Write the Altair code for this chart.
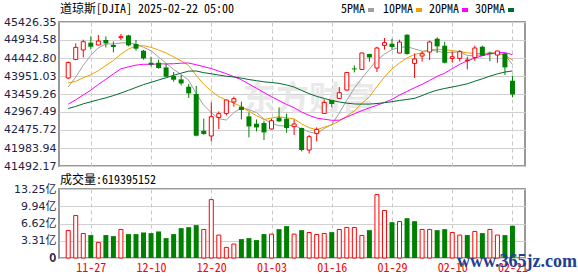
import altair as alt
import pandas as pd

# ---- daily bars, DJIA ----
dates = ["11-22", "11-25", "11-26", "11-27", "11-29", "12-02", "12-03", "12-04", "12-05", "12-06",
         "12-09", "12-10", "12-11", "12-12", "12-13", "12-16", "12-17", "12-18", "12-19", "12-20",
         "12-23", "12-24", "12-26", "12-27", "12-30", "12-31", "01-02", "01-03", "01-06", "01-07",
         "01-08", "01-10", "01-13", "01-14", "01-15", "01-16", "01-17", "01-21", "01-22", "01-23",
         "01-24", "01-27", "01-28", "01-29", "01-30", "01-31", "02-03", "02-04", "02-05", "02-06",
         "02-07", "02-10", "02-11", "02-12", "02-13", "02-14", "02-18", "02-19", "02-20", "02-21"]

opens = [43896, 44404, 44661, 44861, 44798, 44935, 44798, 44997, 45060, 44825,
         44642, 44314, 44314, 44186, 43951, 43858, 43659, 43459, 42456, 42312,
         42820, 42929, 43241, 43112, 42847, 42648, 42667, 42503, 42812, 42784,
         42566, 42530, 41929, 42383, 42929, 43295, 43339, 43568, 44158, 44131,
         44552, 44169, 44787, 44833, 44579, 45079, 44295, 44497, 44607, 44970,
         44779, 44432, 44432, 44369, 44459, 44751, 44588, 44524, 44569, 43823]

highs = [44345, 44842, 44943, 45033, 45071, 45033, 44896, 45098, 45079, 44935,
         44661, 44478, 44396, 44279, 44060, 43978, 43732, 43678, 42784, 43230,
         42984, 43300, 43386, 43249, 42957, 42765, 42730, 42784, 43093, 42921,
         42765, 42540, 42339, 42547, 43312, 43300, 43651, 44060, 44241, 44590,
         44560, 44751, 44989, 44970, 44943, 45090, 44569, 44623, 44915, 45006,
         44888, 44623, 44661, 44478, 44779, 44780, 44614, 44640, 44580, 43951]

lows = [43870, 44390, 44459, 44678, 44790, 44732, 44596, 44935, 44760, 44642,
        44396, 44213, 44150, 43913, 43795, 43694, 43350, 42301, 42347, 42164,
        42503, 42875, 43112, 42765, 42273, 42437, 42202, 42490, 42700, 42402,
        42339, 41891, 41836, 42164, 42920, 43093, 43330, 43560, 44049, 44120,
        44342, 44060, 44670, 44680, 44570, 44533, 43896, 44350, 44388, 44579,
        44295, 44314, 44350, 44131, 44369, 44500, 44350, 44314, 43978, 43366]

closes = [44322, 44732, 44888, 44752, 44907, 44842, 44743, 45025, 44787, 44697,
          44432, 44260, 44170, 43932, 43850, 43749, 43476, 42320, 42366, 42839,
          42921, 43295, 43331, 43022, 42574, 42546, 42410, 42730, 42711, 42531,
          42640, 41929, 42293, 42492, 43230, 43186, 43495, 44049, 44131, 44579,
          44459, 44716, 44861, 44743, 44879, 44552, 44416, 44560, 44880, 44760,
          44314, 44478, 44615, 44388, 44716, 44505, 44560, 44634, 44186, 43448]

volumes = [529000000, 815000000, 471000000, 440000000, 299000000, 440000000, 420000000, 548000000, 459000000, 459000000,
           490000000, 478000000, 510000000, 382000000, 459000000, 573000000, 592000000, 631000000, 548000000, 1121000000,
           440000000, 204000000, 268000000, 363000000, 382000000, 344000000, 459000000, 459000000, 554000000, 612000000,
           459000000, 535000000, 490000000, 452000000, 471000000, 497000000, 548000000, 586000000, 586000000, 433000000,
           535000000, 1217000000, 911000000, 688000000, 701000000, 764000000, 707000000, 548000000, 548000000, 535000000,
           554000000, 490000000, 440000000, 440000000, 510000000, 478000000, 548000000, 440000000, 440000000, 619395152]

# closes of the 29 sessions before 11-22, needed to seed the moving averages
prior_closes = [43065.22, 42740.42, 43077.70, 43239.05, 43275.91, 42931.60, 42924.89, 42514.95, 42374.36, 42114.40,
                42387.57, 42233.05, 42141.54, 41763.46, 42052.19, 41794.60, 42221.88, 43729.93, 43729.34, 43988.99,
                44293.13, 43910.98, 43958.19, 43750.86, 43444.99, 43389.60, 43268.94, 43408.47, 43870.35]

price_ticks = [41492.17, 41983.94, 42475.72, 42967.49, 43459.26, 43951.03, 44442.80, 44934.58, 45426.35]
vol_ticks_yi = [0, 3.31, 6.62, 9.94, 13.25]          # volume axis, in units of 亿 (1e8) shares
date_ticks = [3, 11, 19, 27, 35, 43, 51, 59]

ma_fields = ["ma5", "ma10", "ma20", "ma30"]
ma_names = ["5PMA", "10PMA", "20PMA", "30PMA"]
ma_windows = [5, 10, 20, 30]
ma_colors = ["#a0a0a0", "#f0a000", "#ff00ff", "#006b2e"]

title_text = "道琼斯[DJIA] 2025-02-22 05:00"

UP = "#ff0000"
DOWN = "#008000"
LABEL = "#222244"
MONO = "Noto Sans Mono CJK SC, Noto Sans CJK SC, monospace"
SANS = "DejaVu Sans, Noto Sans CJK SC"

W, PRICE_H, VOL_H = 466, 144, 69

# ---- tables ----
n = len(dates)
prev_close = [prior_closes[-1]] + closes[:-1]
candles = pd.DataFrame({
    "i": list(range(n)), "date": dates,
    "open": opens, "high": highs, "low": lows, "close": closes, "volume": volumes,
    "candle": ["up" if c >= o else "down" for o, c in zip(opens, closes)],
    "vol_dir": ["up" if c >= p else "down" for c, p in zip(closes, prev_close)],
})
history = pd.DataFrame({
    "i": list(range(-len(prior_closes), n)),
    "close": prior_closes + closes,
})

# ---- scales and axes ----
x_scale = alt.Scale(domain=[-0.56, 60.0], nice=False, zero=False)
price_scale = alt.Scale(domain=[price_ticks[0], price_ticks[-1]], nice=False, zero=False)
vol_scale = alt.Scale(domain=[0, vol_ticks_yi[-1]], nice=False)

date_expr = "%s[indexof(%s, datum.value)]" % (str([dates[k] for k in date_ticks]), str(date_ticks))

x_axis_top = alt.Axis(values=date_ticks, grid=True, gridDash=[4, 3], gridColor="#c8c8c8",
                      labels=False, ticks=False, domain=False, title=None)
x_axis_bottom = alt.Axis(values=date_ticks, grid=True, gridDash=[4, 3], gridColor="#c8c8c8",
                         ticks=False, domain=False, title=None, labelFlush=False, labelOverlap=False,
                         labelExpr=date_expr,
                         labelColor=UP, labelFont=MONO, labelFontSize=12, labelPadding=4)
price_axis = alt.Axis(values=price_ticks, format=".2f", grid=True, gridColor="#d0d0d0",
                      ticks=False, domain=False, title=None, labelPadding=3, labelOverlap=False,
                      labelFont=SANS, labelFontSize=11, labelColor=LABEL)
vol_axis = alt.Axis(values=vol_ticks_yi, format=".2f", grid=True, gridColor="#d0d0d0",
                    ticks=False, domain=False, title=None, labelPadding=3, labelOverlap=False,
                    labelExpr="datum.value == 0 ? '0' : datum.label + '亿'",
                    labelFont=SANS, labelFontSize=11, labelColor=LABEL)

X = alt.X("i:Q", scale=x_scale, axis=x_axis_top)


def note(text, x, y, align="left", baseline="alphabetic", **style):
    return alt.Chart(pd.DataFrame({"t": [text]})).mark_text(align=align, baseline=baseline, **style).encode(
        text="t:N", x=alt.value(x), y=alt.value(y))


# ---- price panel ----
watermark = note("东方财富", 184, 88, font="Noto Sans CJK SC", fontSize=33, fontWeight="bold",
                 color="#e4e4e4", opacity=0.8)

ma_base = alt.Chart(history)
for f, w in zip(ma_fields, ma_windows):
    ma_base = ma_base.transform_window(**{f: "mean(close)"}, frame=[-(w - 1), 0], sort=[alt.SortField("i")])
ma_base = ma_base.transform_filter("datum.i >= 0")
ma_lines = [
    ma_base.mark_line(color=c, strokeWidth=1).encode(
        x=X, y=alt.Y(f + ":Q", scale=price_scale, axis=price_axis))
    for f, c in zip(ma_fields, ma_colors)
]

cbase = alt.Chart(candles)
wicks = cbase.mark_rule(strokeWidth=1).encode(
    x=X, y=alt.Y("low:Q", scale=price_scale, axis=price_axis), y2="high:Q",
    color=alt.condition("datum.candle == 'up'", alt.value(UP), alt.value(DOWN)))
up_bodies = cbase.transform_filter("datum.candle == 'up'").mark_bar(
    size=4, fill="white", stroke=UP, strokeWidth=1).encode(
    x=X, y=alt.Y("open:Q", scale=price_scale, axis=price_axis), y2="close:Q")
down_bodies = cbase.transform_filter("datum.candle == 'down'").mark_bar(
    size=5, color=DOWN).encode(
    x=X, y=alt.Y("open:Q", scale=price_scale, axis=price_axis), y2="close:Q")

title = note(title_text, 1, -9.5, font=MONO, fontSize=12, color="#000000")

legend_layers = []
legend_pos = [(282, 309), (324, 357), (370, 403), (416, 449)]
for name, c, (tx, sx) in zip(ma_names, ma_colors, legend_pos):
    legend_layers.append(note(name, tx, -9.5, font=MONO, fontSize=12, color="#000000"))
    legend_layers.append(
        alt.Chart(pd.DataFrame({"k": [name]})).mark_rect(color=c).encode(
            x=alt.value(sx), x2=alt.value(sx + 6), y=alt.value(-14), y2=alt.value(-10)))

price = alt.layer(watermark, *ma_lines, wicks, up_bodies, down_bodies, title, *legend_layers).properties(
    width=W, height=PRICE_H)

# ---- volume panel ----
XV = alt.X("i:Q", scale=x_scale, axis=x_axis_bottom)
vbase = cbase.transform_calculate(vol_yi="datum.volume / 1e8")
down_vol = vbase.transform_filter("datum.vol_dir == 'down'").mark_bar(
    size=5, color=DOWN, orient="vertical").encode(
    x=XV, y=alt.Y("vol_yi:Q", scale=vol_scale, axis=vol_axis))
up_vol = vbase.transform_filter("datum.vol_dir == 'up'").mark_bar(
    size=4, fill="white", stroke=UP, strokeWidth=1, orient="vertical").encode(
    x=XV, y=alt.Y("vol_yi:Q", scale=vol_scale, axis=vol_axis))
# baseline label of the volume axis
zero_label = note("0", -3, VOL_H, align="right", baseline="middle", font=SANS, fontSize=11, color=LABEL)
vol_title = note("成交量:%d" % volumes[-1], 1, -5.5, font=MONO, fontSize=12, color="#000000")
site = note("www.365jz.com", 398, 78, font="Liberation Serif", fontSize=18, fontWeight="bold",
            color="#1f3f8f")

volume = alt.layer(down_vol, up_vol, zero_label, vol_title, site).properties(width=W, height=VOL_H)

chart = alt.vconcat(price, volume, spacing=0).properties(
    padding={"left": 2, "top": 1, "right": 0, "bottom": 0},
    background="white",
).configure_view(stroke="#999999", strokeWidth=2)

chart.save("out.html", embed_options={"renderer": "svg", "actions": False})
